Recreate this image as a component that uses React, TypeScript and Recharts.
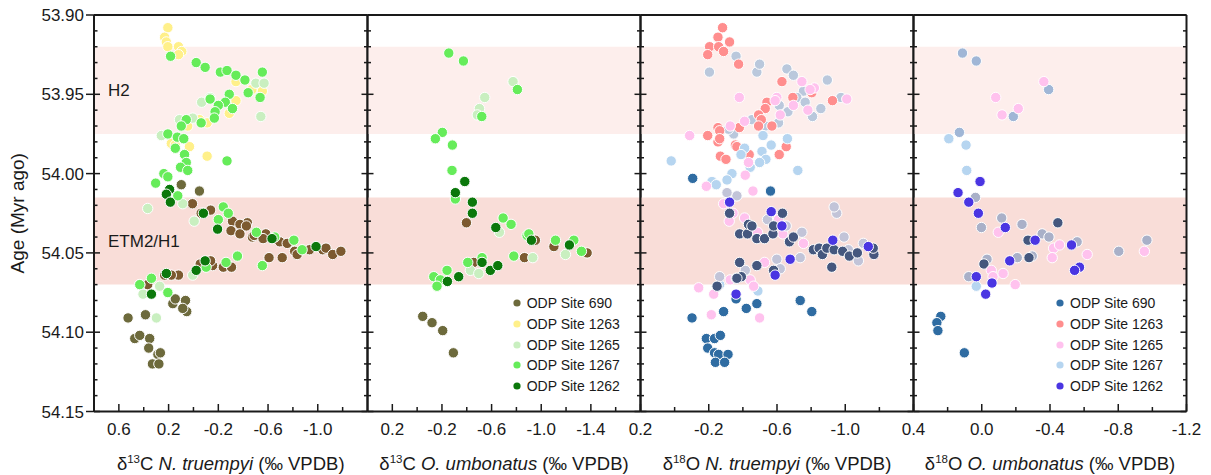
import React from 'react';
import { ScatterChart, Scatter, XAxis, YAxis, ReferenceArea, Legend } from 'recharts';

const FONT = '"Liberation Sans", Arial, Helvetica, sans-serif';
const INK = '#1a1a1a';
const W = 1211;
const H = 475;

// age axis (Myr ago)
const ageDomain = [53.9, 54.15];
const ageMajor = [53.9, 53.95, 54.0, 54.05, 54.1, 54.15];
const ageMinor = [53.91, 53.92, 53.93, 53.94, 53.96, 53.97, 53.98, 53.99, 54.01, 54.02, 54.03, 54.04, 54.06, 54.07, 54.08, 54.09, 54.11, 54.12, 54.13, 54.14];

// event bands
const bandNames = ['H2', 'ETM2/H1'];
const bandFrom = [53.92, 54.015];
const bandTo = [53.975, 54.07];
const bandFill = ['#fdeeec', '#f9ddd8'];

const siteNames = ['ODP Site 690', 'ODP Site 1263', 'ODP Site 1265', 'ODP Site 1267', 'ODP Site 1262'];

// --- panel 1: d13C N. truempyi ---
const c13nt690: [number, number][] = [
  [0.098, 54.007], [-0.048, 54.011], [0.526, 54.091], [0.472, 54.104], [0.432, 54.102], [0.386, 54.089],
  [0.352, 54.104], [0.36, 54.11], [0.286, 54.114], [0.266, 54.113], [0.33, 54.12], [0.278, 54.12],
  [0.166, 54.082], [0.146, 54.079], [0.064, 54.08], [0.054, 54.087], [0.086, 54.085],
];
const c13ntBrown: [number, number][] = [
  [0.008, 54.019], [-0.138, 54.023], [-0.08, 54.025], [-0.062, 54.025], [-0.314, 54.03], [-0.434, 54.031],
  [-0.302, 54.036], [-0.374, 54.032], [-0.374, 54.038], [-0.426, 54.033], [-0.474, 54.04], [-0.488, 54.039],
  [-0.582, 54.038], [-0.56, 54.041], [-0.694, 54.043], [-0.754, 54.044], [-0.814, 54.049], [-0.834, 54.051],
  [-0.934, 54.048], [-1.04, 54.048], [-1.066, 54.047], [-1.12, 54.051], [-1.186, 54.049], [-0.608, 54.053],
  [-0.714, 54.053], [-0.154, 54.058], [-0.24, 54.059], [-0.306, 54.059], [-0.138, 54.055], [-0.054, 54.057],
  [0.12, 54.064], [0.178, 54.064], [0.232, 54.064], [0.368, 54.07], [0.432, 54.07],
];
const c13nt1263: [number, number][] = [
  [0.206, 53.908], [0.232, 53.914], [0.218, 53.917], [0.206, 53.92], [0.12, 53.92], [0.094, 53.923],
  [0.12, 53.925], [-0.342, 53.942], [-0.554, 53.948], [-0.47, 53.947], [-0.342, 53.954], [-0.288, 53.962],
  [-0.11, 53.968], [-0.048, 53.966], [0.046, 53.97], [0.178, 53.981], [0.146, 53.982], [0.032, 53.983],
  [-0.11, 53.989],
];
const c13nt1265: [number, number][] = [
  [-0.542, 53.964], [-0.066, 53.955], [-0.134, 53.952], [-0.502, 53.943], [-0.568, 53.943], [0.258, 53.976],
  [0.112, 53.966], [0.006, 53.965], [0.368, 54.022], [0.086, 54.019], [-0.006, 54.03], [0.006, 54.064],
  [0.406, 54.076], [0.298, 54.091], [0.272, 54.071],
];
const c13nt1267: [number, number][] = [
  [0.184, 53.926], [-0.022, 53.93], [-0.094, 53.933], [-0.216, 53.936], [-0.27, 53.935], [-0.342, 53.938],
  [-0.414, 53.941], [-0.554, 53.936], [-0.44, 53.949], [-0.536, 53.952], [-0.288, 53.95], [-0.134, 53.953],
  [-0.256, 53.955], [-0.2, 53.957], [-0.314, 53.959], [-0.174, 53.961], [-0.168, 53.965], [0.058, 53.966],
  [-0.062, 53.968], [0.098, 53.97], [0.206, 53.975], [0.13, 53.977], [0.078, 53.978], [0.146, 53.984],
  [0.072, 53.988], [0.058, 53.993], [0.104, 53.996], [0.046, 53.998], [-0.27, 53.992], [0.238, 54.0],
  [0.206, 54.002], [0.304, 54.006], [0.126, 54.014], [-0.24, 54.021], [-0.28, 54.025], [-0.2, 54.029],
  [-0.506, 54.037], [-0.654, 54.04], [-0.808, 54.042], [-0.874, 54.048], [-0.554, 54.058], [-0.354, 54.052],
  [-0.262, 54.056], [-0.102, 54.059], [0.338, 54.066], [0.432, 54.07], [0.206, 54.075],
];
const c13nt1262: [number, number][] = [
  [0.192, 54.01], [0.218, 54.013], [0.186, 54.018], [-0.08, 54.025], [-0.194, 54.035], [-0.632, 54.041],
  [-0.986, 54.046], [-0.094, 54.055], [-0.022, 54.061], [0.218, 54.063], [0.338, 54.076],
];

// --- panel 2: d13C O. umbonatus ---
const c13ou690: [number, number][] = [[-0.045, 54.09], [-0.12, 54.094], [-0.206, 54.099], [-0.292, 54.113]];
const c13ouBrown: [number, number][] = [
  [-0.397, 54.031], [-0.953, 54.042], [-1.102, 54.046], [-1.37, 54.05], [-0.456, 54.056], [-0.865, 54.053],
];
const c13ou1265: [number, number][] = [
  [-0.773, 53.942], [-0.545, 53.952], [-0.502, 53.959], [-0.485, 53.963], [-0.663, 54.037], [-1.195, 54.051],
  [-0.932, 54.053], [-0.429, 54.061], [-0.497, 54.063],
];
const c13ou1267: [number, number][] = [
  [-0.255, 53.924], [-0.373, 53.929], [-0.808, 53.947], [-0.521, 53.964], [-0.203, 53.974], [-0.147, 53.978],
  [-0.284, 53.982], [-0.281, 53.998], [-0.308, 54.016], [-0.693, 54.028], [-0.757, 54.032], [-0.886, 54.039],
  [-0.9, 54.038], [-1.115, 54.042], [-1.263, 54.042], [-1.324, 54.049], [-0.779, 54.052], [-0.408, 54.056],
  [-0.523, 54.053], [-0.241, 54.061], [-0.134, 54.065], [-0.187, 54.067], [-0.16, 54.071],
];
const c13ou1262: [number, number][] = [
  [-0.384, 54.005], [-0.308, 54.012], [-0.445, 54.018], [-0.445, 54.025], [-0.634, 54.034], [-0.921, 54.042],
  [-1.227, 54.045], [-0.523, 54.056], [-0.59, 54.061], [-0.65, 54.058], [-0.335, 54.065], [-0.244, 54.068],
];

// --- panel 3: d18O N. truempyi ---
const o18nt690: [number, number][] = [
  [-0.102, 54.091], [-0.186, 54.104], [-0.234, 54.104], [-0.268, 54.102], [-0.194, 54.11], [-0.234, 54.113],
  [-0.258, 54.114], [-0.313, 54.114], [-0.239, 54.119], [-0.293, 54.119], [-0.287, 54.087], [-0.42, 54.085],
  [-0.482, 54.082], [-0.36, 54.079], [-0.736, 54.08], [-0.804, 54.087], [-0.106, 54.003], [-0.562, 54.011],
];
const o18ntNavy: [number, number][] = [
  [-0.381, 54.038], [-0.427, 54.038], [-0.482, 54.041], [-0.527, 54.041], [-0.576, 54.038], [-0.58, 54.033],
  [-0.632, 54.025], [-0.673, 54.043], [-0.696, 54.04], [-0.813, 54.048], [-0.847, 54.047], [-0.866, 54.051],
  [-0.892, 54.047], [-0.935, 54.048], [-0.985, 54.049], [-1.024, 54.052], [-1.071, 54.05], [-1.168, 54.051],
  [-1.164, 54.047], [-0.921, 54.059], [-0.381, 54.056], [-0.482, 54.058], [-0.391, 54.065], [-0.365, 54.066],
  [-0.58, 54.061], [-0.433, 54.032], [-0.453, 54.033], [-0.322, 54.025], [-0.249, 54.071],
];
const o18ntGrey: [number, number][] = [
  [-0.36, 53.926], [-0.204, 53.936], [-0.482, 53.936], [-0.498, 53.931], [-0.658, 53.934], [-0.696, 53.938],
  [-0.755, 53.948], [-0.716, 53.952], [-0.765, 53.955], [-0.895, 53.941], [-0.975, 53.952], [-0.857, 53.959],
  [-0.808, 53.964], [-0.664, 53.961], [-0.609, 53.968], [-0.613, 53.957], [-0.453, 53.966], [-0.531, 53.97],
  [-0.346, 53.975], [-0.316, 53.972],
];
const o18ntLilac: [number, number][] = [
  [-0.365, 54.014], [-0.307, 54.012], [-0.544, 54.029], [-0.654, 54.033], [-0.746, 54.037], [-0.95, 54.025],
  [-0.935, 54.021], [-0.993, 54.04], [-1.018, 54.048], [-1.106, 54.044], [-1.077, 54.055], [-0.736, 54.053],
  [-0.599, 54.054], [-0.619, 54.06], [-0.414, 54.061], [-0.361, 54.066], [-0.264, 54.065],
];
const o18nt1263: [number, number][] = [
  [-0.281, 53.908], [-0.254, 53.914], [-0.205, 53.92], [-0.258, 53.92], [-0.287, 53.923], [-0.322, 53.917],
  [-0.194, 53.925], [-0.375, 53.931], [-0.629, 53.942], [-0.693, 53.952], [-0.804, 53.949], [-0.925, 53.954],
  [-0.541, 53.955], [-0.531, 53.959], [-0.492, 53.963], [-0.508, 53.966], [-0.57, 53.97], [-0.492, 53.97],
  [-0.379, 53.971], [-0.254, 53.971], [-0.264, 53.973], [-0.194, 53.976], [-0.254, 53.98], [-0.264, 53.978],
  [-0.356, 53.982], [-0.365, 53.983], [-0.424, 53.987], [-0.437, 53.988], [-0.268, 53.989], [-0.301, 53.991],
  [-0.654, 53.983], [-0.613, 53.988],
];
const o18nt1265: [number, number][] = [
  [-0.379, 53.952], [-0.088, 53.976], [-0.41, 53.967], [-0.599, 53.952], [-0.589, 53.954], [-0.746, 53.942],
  [-0.819, 53.946], [-0.794, 53.947], [-0.696, 53.957], [-0.781, 53.96], [-0.619, 53.963], [-1.009, 53.953],
  [-0.326, 53.97], [-0.414, 54.001], [-0.186, 54.008], [-0.459, 54.011], [-0.433, 53.993], [-0.287, 54.019],
  [-0.342, 54.025], [-0.32, 54.03], [-0.41, 54.028], [-0.486, 54.037], [-0.609, 54.029], [-0.634, 54.038],
  [-0.755, 54.044], [-0.527, 54.056], [-0.443, 54.067], [-0.326, 54.067], [-0.141, 54.072], [-0.463, 54.071],
  [-0.229, 54.076], [-0.215, 54.089], [-0.498, 54.091],
];
const o18nt1267: [number, number][] = [
  [0.02, 53.992], [-0.518, 53.976], [-0.661, 53.978], [-0.566, 53.982], [-0.512, 53.986], [-0.535, 53.991],
  [-0.498, 53.993], [-0.443, 53.996], [-0.41, 53.984], [-0.389, 53.988], [-0.722, 53.998], [-0.336, 54.0],
  [-0.307, 54.004], [-0.219, 54.005], [-0.244, 54.007], [-0.307, 54.012], [-0.365, 54.014], [-0.488, 54.074],
  [-0.264, 54.07],
];
const o18nt1262: [number, number][] = [
  [-0.566, 54.024], [-0.322, 54.018], [-0.927, 54.042], [-1.135, 54.046], [-0.589, 54.064], [-0.677, 54.054],
  [-0.629, 54.033], [-0.36, 54.076],
];

// --- panel 4: d18O O. umbonatus ---
const o18ou690: [number, number][] = [[0.24, 54.09], [0.263, 54.094], [0.257, 54.099], [0.102, 54.113]];
const o18ouNavy: [number, number][] = [[-0.446, 54.031], [-0.271, 54.042], [-0.277, 54.053], [-0.013, 54.057]];
const o18ouGrey: [number, number][] = [[0.113, 53.924], [0.032, 53.929], [-0.392, 53.947], [-0.185, 53.964], [0.131, 53.974]];
const o18ouLilac: [number, number][] = [
  [0.037, 54.015], [-0.117, 54.028], [-0.236, 54.032], [0.002, 54.034], [-0.354, 54.038], [-0.394, 54.04],
  [-0.559, 54.043], [-0.803, 54.049], [-0.968, 54.042], [-0.296, 54.052], [-0.208, 54.053], [-0.031, 54.054],
  [0.076, 54.065],
];
const o18ou1265: [number, number][] = [
  [-0.364, 53.942], [-0.082, 53.952], [-0.214, 53.959], [-0.119, 53.963], [-0.097, 54.037], [-0.421, 54.047],
  [-0.456, 54.045], [-0.413, 54.053], [-0.618, 54.051], [-0.953, 54.049], [-0.056, 54.061], [-0.066, 54.065],
  [-0.125, 54.063], [-0.196, 54.07],
];
const o18ou1267: [number, number][] = [[0.193, 53.978], [0.092, 53.982], [0.088, 53.998], [0.032, 54.071]];
const o18ou1262: [number, number][] = [
  [0.01, 54.005], [0.139, 54.012], [0.076, 54.018], [0.02, 54.025], [-0.138, 54.034], [-0.313, 54.042],
  [-0.526, 54.045], [-0.164, 54.055], [-0.573, 54.059], [-0.544, 54.061], [0.032, 54.065], [-0.06, 54.069],
  [-0.023, 54.076],
];

const greenColors = ['#6d6a3c', '#fff08a', '#c9efc0', '#66ec5a', '#0b780b'];
const blueColors = ['#2f6ca2', '#ff8e8e', '#ffc2ee', '#b6d5f0', '#4a35e2'];

const panels: any[] = [
  {
    left: 94, right: 367.5, domain: [-1.4, 0.8],
    major: [0.6, 0.2, -0.2, -0.6, -1.0], minor: [0.4, 0.0, -0.4, -0.8, -1.2],
    title: ['13', 'C', 'N. truempyi'], ageLabels: true, bandLabels: true,
    series: [
      { pts: c13nt690, color: greenColors[0] }, { pts: c13ntBrown, color: '#7c5a30' },
      { pts: c13nt1263, color: greenColors[1] }, { pts: c13nt1265, color: greenColors[2] },
      { pts: c13nt1267, color: greenColors[3] }, { pts: c13nt1262, color: greenColors[4] },
    ],
  },
  {
    left: 367.5, right: 640.5, domain: [-1.8, 0.4],
    major: [0.2, -0.2, -0.6, -1.0, -1.4], minor: [0.0, -0.4, -0.8, -1.2, -1.6],
    title: ['13', 'C', 'O. umbonatus'],
    legend: { colors: greenColors, left: 511.7, top: 293 },
    series: [
      { pts: c13ou690, color: greenColors[0] }, { pts: c13ouBrown, color: '#7c5a30' },
      { pts: c13ou1265, color: greenColors[2] }, { pts: c13ou1267, color: greenColors[3] },
      { pts: c13ou1262, color: greenColors[4] },
    ],
  },
  {
    left: 640.5, right: 913.5, domain: [-1.4, 0.2],
    major: [0.2, -0.2, -0.6, -1.0], minor: [0.0, -0.4, -0.8, -1.2],
    title: ['18', 'O', 'N. truempyi'],
    series: [
      { pts: o18nt690, color: blueColors[0] }, { pts: o18ntGrey, color: '#bac8dc' },
      { pts: o18nt1263, color: blueColors[1] }, { pts: o18nt1267, color: blueColors[3] },
      { pts: o18nt1265, color: blueColors[2] }, { pts: o18ntLilac, color: '#c2c4d8' },
      { pts: o18ntNavy, color: '#45577e' }, { pts: o18nt1262, color: blueColors[4] },
    ],
  },
  {
    left: 913.5, right: 1186.5, domain: [-1.2, 0.4],
    major: [0.4, 0.0, -0.4, -0.8, -1.2], minor: [0.2, -0.2, -0.6, -1.0],
    title: ['18', 'O', 'O. umbonatus'],
    legend: { colors: blueColors, left: 1055, top: 293 },
    series: [
      { pts: o18ou690, color: blueColors[0] }, { pts: o18ouGrey, color: '#a0b6d6' },
      { pts: o18ouLilac, color: '#a9b0c8' }, { pts: o18ouNavy, color: '#45577e' },
      { pts: o18ou1265, color: blueColors[2] }, { pts: o18ou1267, color: blueColors[3] },
      { pts: o18ou1262, color: blueColors[4] },
    ],
  },
];

const isIn = (list: number[], v: number) => list.some((l) => Math.abs(l - v) < 1e-6);

const bottomTick = (major: number[]) => (p: any) => {
  const v = p.payload.value;
  const big = isIn(major, v);
  return (
    <g>
      <line x1={p.x} x2={p.x} y1={p.y} y2={p.y - (big ? 7.5 : 4.5)} stroke={INK} strokeWidth={1.5} />
      {big && (
        <text x={p.x} y={p.y + 23} textAnchor="middle" fontSize={17} fontFamily={FONT} fill={INK}>
          {v.toFixed(1)}
        </text>
      )}
    </g>
  );
};

const topTick = (major: number[]) => (p: any) => {
  const big = isIn(major, p.payload.value);
  return <line x1={p.x} x2={p.x} y1={p.y} y2={p.y + (big ? 7.5 : 4.5)} stroke={INK} strokeWidth={1.5} />;
};

const leftTick = (withLabels: boolean) => (p: any) => {
  const v = p.payload.value;
  const big = isIn(ageMajor, v);
  return (
    <g>
      <line x1={p.x - (big && withLabels ? 8 : 0)} x2={p.x + (big ? 6 : 3.5)} y1={p.y} y2={p.y} stroke={INK} strokeWidth={1.5} />
      {big && withLabels && (
        <text x={p.x - 10} y={p.y + 6} textAnchor="end" fontSize={17} fontFamily={FONT} fill={INK}>
          {v.toFixed(2)}
        </text>
      )}
    </g>
  );
};

const rightTick = (p: any) => {
  const big = isIn(ageMajor, p.payload.value);
  return <line x1={p.x} x2={p.x - (big ? 6 : 3.5)} y1={p.y} y2={p.y} stroke={INK} strokeWidth={1.5} />;
};

const xTitle = (title: string[]) => (p: any) => {
  const vb = p.viewBox || {};
  const cx = vb.x + vb.width / 2;
  const y = vb.y + 58;
  return (
    <text x={cx} y={y} textAnchor="middle" fontFamily={FONT} fontSize={18.5} fill={INK}>
      <tspan>δ</tspan>
      <tspan fontSize={11.5} dy={-7}>{title[0]}</tspan>
      <tspan dy={7}>{title[1] + ' '}</tspan>
      <tspan fontStyle="italic">{title[2]}</tspan>
      <tspan>{' (‰ VPDB)'}</tspan>
    </text>
  );
};

const ageTitle = (p: any) => {
  const vb = p.viewBox || {};
  const cx = vb.x + vb.width - 77;
  const cy = vb.y + vb.height / 2;
  return (
    <text x={cx} y={cy} transform={`rotate(-90 ${cx} ${cy})`} textAnchor="middle" dominantBaseline="central"
      fontFamily={FONT} fontSize={19} fill={INK}>
      Age (Myr ago)
    </text>
  );
};

const SiteLegend = ({ colors }: { colors: string[] }) => (
  <div style={{ fontFamily: FONT, fontSize: 14, color: INK }}>
    {siteNames.map((n, i) => (
      <div key={n} style={{ display: 'flex', alignItems: 'center', height: 20.7 }}>
        <svg width={10} height={10}>
          <circle cx={5} cy={5} r={3.6} fill={colors[i]} />
        </svg>
        <span style={{ marginLeft: 5, whiteSpace: 'nowrap' }}>{n}</span>
      </div>
    ))}
  </div>
);

const Panel = ({ cfg }: { cfg: any }) => {
  const xTicks = [...cfg.major, ...cfg.minor].sort((a: number, b: number) => a - b);
  const yTicks = [...ageMajor, ...ageMinor].sort((a, b) => a - b);
  const axisLine = { stroke: INK, strokeWidth: 2 };
  // axes on top/left/right are 1px thick boxes, so margins are 1px smaller
  return (
    <div style={{ position: 'absolute', left: 0, top: 0 }}>
      <ScatterChart width={W} height={H} margin={{ top: 14, right: W - cfg.right - 1, bottom: 33.5, left: cfg.left - 1 }}>
        <XAxis xAxisId="b" type="number" dataKey="x" domain={cfg.domain} reversed allowDataOverflow
          ticks={xTicks} interval={0} tickSize={0} tickMargin={0} tickLine={false} height={30}
          axisLine={axisLine} tick={bottomTick(cfg.major)} label={{ content: xTitle(cfg.title) }} />
        <XAxis xAxisId="t" type="number" orientation="top" domain={cfg.domain} reversed allowDataOverflow
          ticks={xTicks} interval={0} tickSize={0} tickMargin={0} tickLine={false} height={1}
          axisLine={axisLine} tick={topTick(cfg.major)} />
        <YAxis yAxisId="l" type="number" dataKey="y" domain={ageDomain} reversed allowDataOverflow
          ticks={yTicks} interval={0} tickSize={0} tickMargin={0} tickLine={false} width={1}
          axisLine={axisLine} tick={leftTick(!!cfg.ageLabels)}
          label={cfg.ageLabels ? { content: ageTitle } : undefined} />
        <YAxis yAxisId="r" type="number" orientation="right" domain={ageDomain} reversed allowDataOverflow
          ticks={yTicks} interval={0} tickSize={0} tickMargin={0} tickLine={false} width={1}
          axisLine={axisLine} tick={rightTick} />
        {bandNames.map((b, i) => (
          <ReferenceArea key={b} xAxisId="b" yAxisId="l" y1={bandFrom[i]} y2={bandTo[i]} fill={bandFill[i]}
            fillOpacity={1} stroke="none" ifOverflow="hidden"
            label={cfg.bandLabels ? { value: b, position: 'insideLeft', offset: 14, fill: INK, fontSize: 17, fontFamily: FONT } : undefined} />
        ))}
        {cfg.series.map((s: any, i: number) => (
          <Scatter key={i} xAxisId="b" yAxisId="l" data={s.pts.map(([x, y]: number[]) => ({ x, y }))}
            fill={s.color} isAnimationActive={false}
            shape={(p: any) => <circle cx={p.cx} cy={p.cy} r={5.2} fill={s.color} stroke="#ffffff" strokeWidth={1} />} />
        ))}
        {cfg.legend && (
          <Legend layout="vertical" align="center" verticalAlign="middle"
            wrapperStyle={{ left: cfg.legend.left, top: cfg.legend.top, width: 170, height: 110 }}
            content={() => <SiteLegend colors={cfg.legend.colors} />} />
        )}
      </ScatterChart>
    </div>
  );
};

export default function App() {
  return (
    <div style={{ position: 'absolute', left: 0, top: 0, width: W, height: H, background: '#ffffff' }}>
      {panels.map((p, i) => (
        <Panel key={i} cfg={p} />
      ))}
    </div>
  );
}
